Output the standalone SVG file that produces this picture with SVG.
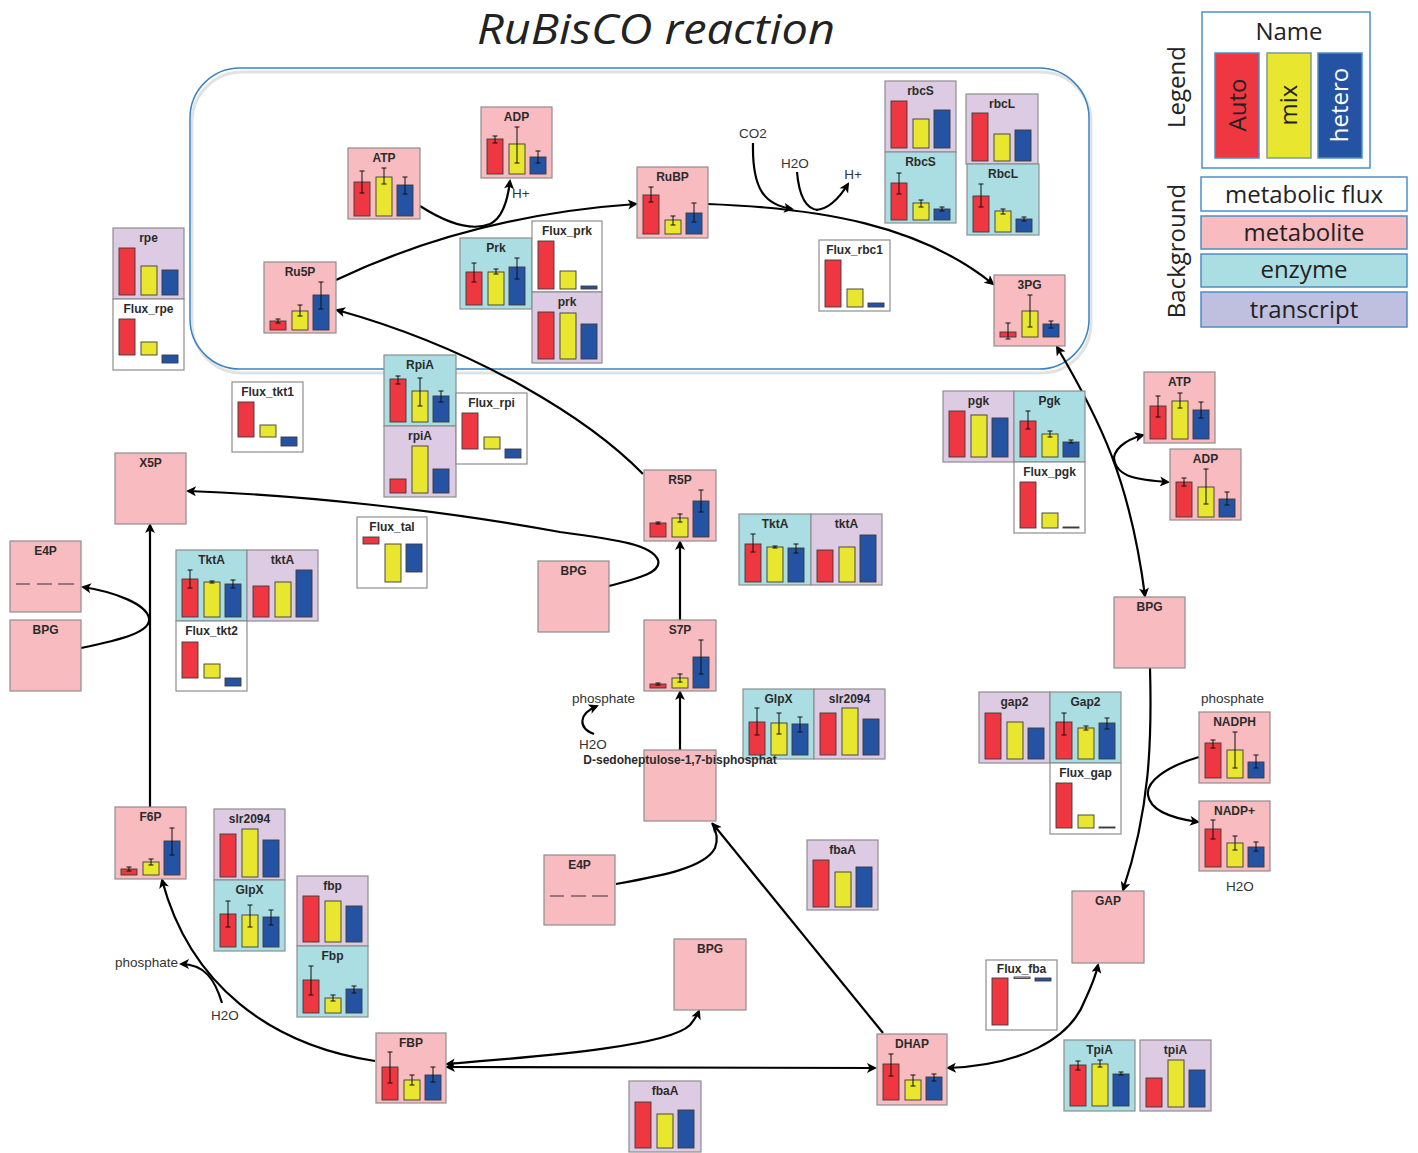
<svg xmlns="http://www.w3.org/2000/svg" width="1418" height="1153" viewBox="0 0 1418 1153">
<style>
.box{stroke:#8e8e8e;stroke-width:1.2}
.m{fill:#f8bbc0}.e{fill:#abdee3}.t{fill:#dccbe2}.f{fill:#fff}
.bar{stroke:#3a3a3a;stroke-width:0.9}
.r{fill:#ee3740}.y{fill:#e9e62f}.b{fill:#2553a3}
.err{stroke:#111;stroke-width:1;fill:none}
.dash{stroke:#333;stroke-width:1.2}
.nt{font-family:"Liberation Sans",Arial,sans-serif;font-weight:bold;font-size:12px;fill:#2b2b2b;text-anchor:middle}
.lab{font-family:"Liberation Sans",Arial,sans-serif;font-size:13.5px;fill:#333}
.c{fill:none;stroke:#000;stroke-width:2.2}
.ae{marker-end:url(#ah)}
.as{marker-start:url(#ah)}
.lg{font-family:"Open Sans","Noto Sans",sans-serif;font-size:24px;fill:#222}
.lgb{stroke:#4d8fc6;stroke-width:1.5}
</style>
<defs>
<marker id="ah" viewBox="0 0 10 10" refX="8" refY="5" markerWidth="12" markerHeight="10" markerUnits="userSpaceOnUse" orient="auto-start-reverse">
<path d="M0,0 L10,5 L0,10 L2.5,5 z" fill="#000"/>
</marker>
</defs>
<rect width="1418" height="1153" fill="#fff"/>
<text x="656" y="44" text-anchor="middle" font-family="'Open Sans','Noto Sans',sans-serif" font-style="italic" font-size="42" fill="#222" textLength="358" lengthAdjust="spacingAndGlyphs">RuBisCO reaction</text>

<g id="compartment">
<rect x="192" y="72" width="899" height="301" rx="50" fill="none" stroke="#e2e2e2" stroke-width="3"/>
<rect x="190" y="68" width="899" height="301" rx="50" fill="none" stroke="#3a84c4" stroke-width="1.5"/>
</g>

<g id="legend">
<text class="lg" transform="translate(1185,87) rotate(-90)" text-anchor="middle">Legend</text>
<rect class="lgb" x="1202" y="12" width="168" height="156" fill="#fff"/>
<text class="lg" x="1289" y="40" text-anchor="middle">Name</text>
<rect class="lgb" x="1215" y="53" width="44" height="105" fill="#ee3740"/>
<rect x="1267" y="53" width="44" height="105" fill="#e9e62f" stroke="#7d9a9a" stroke-width="1.5"/>
<rect class="lgb" x="1318" y="53" width="44" height="105" fill="#2553a3"/>
<text class="lg" transform="translate(1246,105) rotate(-90)" text-anchor="middle">Auto</text>
<text class="lg" transform="translate(1297,105) rotate(-90)" text-anchor="middle">mix</text>
<text class="lg" transform="translate(1348,105) rotate(-90)" text-anchor="middle" style="fill:#fff">hetero</text>
<text class="lg" transform="translate(1185,251) rotate(-90)" text-anchor="middle">Background</text>
<rect class="lgb" x="1201" y="177" width="206" height="34" fill="#fff"/>
<text class="lg" x="1304" y="203" text-anchor="middle">metabolic flux</text>
<rect class="lgb" x="1201" y="216" width="206" height="33" fill="#f8bbc0"/>
<text class="lg" x="1304" y="241" text-anchor="middle">metabolite</text>
<rect class="lgb" x="1201" y="254" width="206" height="33" fill="#abdee3"/>
<text class="lg" x="1304" y="278" text-anchor="middle">enzyme</text>
<rect class="lgb" x="1201" y="292" width="206" height="35" fill="#bfc0e0"/>
<text class="lg" x="1304" y="318" text-anchor="middle">transcript</text>
</g>

<g id="connectors">
<path class="c ae" d="M336,280 C420,240 520,212 636,204"/>
<path class="c ae" d="M420,206 C445,222 470,232 490,224 C503,218 508,198 510,181"/>
<path class="c ae" d="M707,204 C820,208 920,225 993,284"/>
<path class="c ae" d="M753,143 C752,190 765,205 792,209"/>
<path class="c" d="M797,172 C799,195 805,209 818,210"/>
<path class="c ae" d="M816,210 C830,209 840,197 848,184"/>
<path class="c ae as" d="M1057,347 C1100,420 1130,480 1145,596"/>
<path class="c ae" d="M1114,462 C1112,450 1125,440 1143,435"/>
<path class="c ae" d="M1114,458 C1116,478 1140,480 1168,482"/>
<path class="c ae" d="M1150,668 C1152,740 1150,810 1123,890"/>
<path class="c ae" d="M1199,757 C1165,767 1146,782 1148,795 C1150,810 1170,818 1198,822"/>
<path class="c ae as" d="M948,1068 C1020,1065 1070,1040 1085,1000 C1092,985 1096,975 1098,965"/>
<path class="c ae" d="M150,807 V525"/>
<path class="c ae" d="M81,648 C120,640 152,632 149,618 C146,604 115,592 83,587"/>
<path class="c ae" d="M609,586 C640,578 662,572 658,560 C652,545 620,540 560,532 C440,510 300,495 188,491"/>
<path class="c ae" d="M643,474 C590,420 480,350 337,310"/>
<path class="c ae" d="M680,620 V542"/>
<path class="c ae" d="M680,750 V692"/>
<path class="c ae" d="M594,734 C578,728 578,714 597,706"/>
<path class="c" d="M616,884 C660,876 705,868 715,848 C719,838 716,830 712,823"/>
<path class="c ae" d="M883,1033 L713,824"/>
<path class="c ae" d="M375,1061 C270,1045 190,985 162,880"/>
<path class="c ae" d="M222,1003 C215,980 205,964 181,964"/>
<path class="c ae as" d="M447,1064 C560,1055 670,1045 690,1025 C694,1020 697,1016 699,1011"/>
<path class="c ae as" d="M447,1067 L875,1068"/>
</g>

<g id="labels">
<text class="lab" x="753" y="138" text-anchor="middle">CO2</text>
<text class="lab" x="795" y="168" text-anchor="middle">H2O</text>
<text class="lab" x="853" y="179" text-anchor="middle">H+</text>
<text class="lab" x="512" y="198">H+</text>
<text class="lab" x="572" y="703">phosphate</text>
<text class="lab" x="579" y="749">H2O</text>
<text class="lab" x="115" y="967">phosphate</text>
<text class="lab" x="211" y="1020">H2O</text>
<text class="lab" x="1201" y="703">phosphate</text>
<text class="lab" x="1226" y="891">H2O</text>
</g>

<g id="n-rpe" transform="translate(113,228)"><rect class="box t" width="71" height="71"/><text class="nt" x="35.5" y="13.5">rpe</text><rect class="bar r" x="6" y="20" width="16" height="47"/><rect class="bar y" x="28" y="38" width="16" height="29"/><rect class="bar b" x="49" y="42" width="16" height="25"/></g>
<g id="n-Flux_rpe" transform="translate(113,299)"><rect class="box f" width="71" height="71"/><text class="nt" x="35.5" y="13.5">Flux_rpe</text><rect class="bar r" x="6" y="20" width="16" height="36"/><rect class="bar y" x="28" y="43" width="16" height="13"/><rect class="bar b" x="49" y="56" width="16" height="8"/></g>
<g id="n-Ru5P" transform="translate(264,262)"><rect class="box m" width="72" height="71"/><text class="nt" x="36" y="13.5">Ru5P</text><rect class="bar r" x="6" y="59" width="16" height="9"/><rect class="bar y" x="28" y="49" width="16" height="19"/><rect class="bar b" x="49" y="33" width="16" height="35"/><path class="err" d="M14,57V61M11.5,57h5M11.5,61h5M36,43V54M33.5,43h5M33.5,54h5M57,20V47M54.5,20h5M54.5,47h5"/></g>
<g id="n-ATP-1" transform="translate(348,148)"><rect class="box m" width="72" height="71"/><text class="nt" x="36" y="13.5">ATP</text><rect class="bar r" x="6" y="34" width="16" height="34"/><rect class="bar y" x="28" y="29" width="16" height="39"/><rect class="bar b" x="49" y="37" width="16" height="31"/><path class="err" d="M14,23V45M11.5,23h5M11.5,45h5M36,20V36M33.5,20h5M33.5,36h5M57,29V46M54.5,29h5M54.5,46h5"/></g>
<g id="n-ADP-1" transform="translate(481,107)"><rect class="box m" width="71" height="71"/><text class="nt" x="35.5" y="13.5">ADP</text><rect class="bar r" x="6" y="32" width="16" height="35"/><rect class="bar y" x="28" y="37" width="16" height="30"/><rect class="bar b" x="49" y="50" width="16" height="17"/><path class="err" d="M14,29V36M11.5,29h5M11.5,36h5M36,20V56M33.5,20h5M33.5,56h5M57,44V56M54.5,44h5M54.5,56h5"/></g>
<g id="n-RuBP" transform="translate(637,167)"><rect class="box m" width="71" height="71"/><text class="nt" x="35.5" y="13.5">RuBP</text><rect class="bar r" x="6" y="28" width="16" height="39"/><rect class="bar y" x="28" y="53" width="16" height="14"/><rect class="bar b" x="49" y="46" width="16" height="21"/><path class="err" d="M14,20V35M11.5,20h5M11.5,35h5M36,49V58M33.5,49h5M33.5,58h5M57,36V55M54.5,36h5M54.5,55h5"/></g>
<g id="n-Prk" transform="translate(460,238)"><rect class="box e" width="72" height="71"/><text class="nt" x="36" y="13.5">Prk</text><rect class="bar r" x="6" y="34" width="16" height="33"/><rect class="bar y" x="28" y="34" width="16" height="33"/><rect class="bar b" x="49" y="29" width="16" height="38"/><path class="err" d="M14,25V44M11.5,25h5M11.5,44h5M36,31V36M33.5,31h5M33.5,36h5M57,20V41M54.5,20h5M54.5,41h5"/></g>
<g id="n-Flux_prk" transform="translate(532,221)"><rect class="box f" width="70" height="71"/><text class="nt" x="35" y="13.5">Flux_prk</text><rect class="bar r" x="6" y="20" width="16" height="48"/><rect class="bar y" x="28" y="50" width="16" height="18"/><rect class="bar b" x="49" y="65" width="16" height="3"/></g>
<g id="n-prk" transform="translate(532,292)"><rect class="box t" width="70" height="71"/><text class="nt" x="35" y="13.5">prk</text><rect class="bar r" x="6" y="20" width="16" height="47"/><rect class="bar y" x="28" y="21" width="16" height="46"/><rect class="bar b" x="49" y="32" width="16" height="35"/></g>
<g id="n-rbcS" transform="translate(885,81)"><rect class="box t" width="71" height="71"/><text class="nt" x="35.5" y="13.5">rbcS</text><rect class="bar r" x="6" y="20" width="16" height="47"/><rect class="bar y" x="28" y="38" width="16" height="29"/><rect class="bar b" x="49" y="29" width="16" height="38"/></g>
<g id="n-RbcS" transform="translate(885,152)"><rect class="box e" width="71" height="71"/><text class="nt" x="35.5" y="13.5">RbcS</text><rect class="bar r" x="6" y="31" width="16" height="37"/><rect class="bar y" x="28" y="51" width="16" height="17"/><rect class="bar b" x="49" y="57" width="16" height="11"/><path class="err" d="M14,21V42M11.5,21h5M11.5,42h5M36,48V55M33.5,48h5M33.5,55h5M57,55V59M54.5,55h5M54.5,59h5"/></g>
<g id="n-rbcL" transform="translate(966,94)"><rect class="box t" width="72" height="70"/><text class="nt" x="36" y="13.5">rbcL</text><rect class="bar r" x="6" y="19" width="16" height="48"/><rect class="bar y" x="28" y="40" width="16" height="27"/><rect class="bar b" x="49" y="36" width="16" height="31"/></g>
<g id="n-RbcL" transform="translate(967,164)"><rect class="box e" width="72" height="71"/><text class="nt" x="36" y="13.5">RbcL</text><rect class="bar r" x="6" y="32" width="16" height="36"/><rect class="bar y" x="28" y="47" width="16" height="21"/><rect class="bar b" x="49" y="55" width="16" height="13"/><path class="err" d="M14,20V43M11.5,20h5M11.5,43h5M36,45V50M33.5,45h5M33.5,50h5M57,53V57M54.5,53h5M54.5,57h5"/></g>
<g id="n-Flux_rbc1" transform="translate(819,240)"><rect class="box f" width="71" height="71"/><text class="nt" x="35.5" y="13.5">Flux_rbc1</text><rect class="bar r" x="6" y="20" width="16" height="47"/><rect class="bar y" x="28" y="49" width="16" height="18"/><rect class="bar b" x="49" y="63" width="16" height="4"/></g>
<g id="n-3PG" transform="translate(994,275)"><rect class="box m" width="71" height="71"/><text class="nt" x="35.5" y="13.5">3PG</text><rect class="bar r" x="6" y="57" width="16" height="5"/><rect class="bar y" x="28" y="36" width="16" height="26"/><rect class="bar b" x="49" y="49" width="16" height="13"/><path class="err" d="M14,48V64M11.5,48h5M11.5,64h5M36,20V52M33.5,20h5M33.5,52h5M57,46V53M54.5,46h5M54.5,53h5"/></g>
<g id="n-RpiA" transform="translate(384,355)"><rect class="box e" width="72" height="71"/><text class="nt" x="36" y="13.5">RpiA</text><rect class="bar r" x="6" y="24" width="16" height="43"/><rect class="bar y" x="28" y="36" width="16" height="31"/><rect class="bar b" x="49" y="41" width="16" height="26"/><path class="err" d="M14,21V29M11.5,21h5M11.5,29h5M36,23V51M33.5,23h5M33.5,51h5M57,36V47M54.5,36h5M54.5,47h5"/></g>
<g id="n-rpiA" transform="translate(384,426)"><rect class="box t" width="72" height="71"/><text class="nt" x="36" y="13.5">rpiA</text><rect class="bar r" x="6" y="53" width="16" height="14"/><rect class="bar y" x="28" y="20" width="16" height="47"/><rect class="bar b" x="49" y="43" width="16" height="24"/></g>
<g id="n-Flux_rpi" transform="translate(456,393)"><rect class="box f" width="71" height="71"/><text class="nt" x="35.5" y="13.5">Flux_rpi</text><rect class="bar r" x="6" y="20" width="16" height="36"/><rect class="bar y" x="28" y="44" width="16" height="12"/><rect class="bar b" x="49" y="56" width="16" height="9"/></g>
<g id="n-Flux_tkt1" transform="translate(232,382)"><rect class="box f" width="71" height="70"/><text class="nt" x="35.5" y="13.5">Flux_tkt1</text><rect class="bar r" x="6" y="20" width="16" height="35"/><rect class="bar y" x="28" y="43" width="16" height="12"/><rect class="bar b" x="49" y="55" width="16" height="9"/></g>
<g id="n-X5P" transform="translate(115,453)"><rect class="box m" width="71" height="71"/><text class="nt" x="35.5" y="13.5">X5P</text></g>
<g id="n-E4P-1" transform="translate(10,541)"><rect class="box m" width="71" height="71"/><text class="nt" x="35.5" y="13.5">E4P</text><path class="dash" d="M6,43h14M27,43h15M48,43h16"/></g>
<g id="n-BPG-1" transform="translate(10,620)"><rect class="box m" width="71" height="71"/><text class="nt" x="35.5" y="13.5">BPG</text></g>
<g id="n-TktA-1" transform="translate(176,550)"><rect class="box e" width="71" height="71"/><text class="nt" x="35.5" y="13.5">TktA</text><rect class="bar r" x="6" y="29" width="16" height="38"/><rect class="bar y" x="28" y="32" width="16" height="35"/><rect class="bar b" x="49" y="34" width="16" height="33"/><path class="err" d="M14,20V38M11.5,20h5M11.5,38h5M36,31V33M33.5,31h5M33.5,33h5M57,30V38M54.5,30h5M54.5,38h5"/></g>
<g id="n-tktA-1" transform="translate(247,550)"><rect class="box t" width="71" height="71"/><text class="nt" x="35.5" y="13.5">tktA</text><rect class="bar r" x="6" y="36" width="16" height="31"/><rect class="bar y" x="28" y="32" width="16" height="35"/><rect class="bar b" x="49" y="20" width="16" height="47"/></g>
<g id="n-Flux_tkt2" transform="translate(176,621)"><rect class="box f" width="71" height="70"/><text class="nt" x="35.5" y="13.5">Flux_tkt2</text><rect class="bar r" x="6" y="21" width="16" height="36"/><rect class="bar y" x="28" y="43" width="16" height="14"/><rect class="bar b" x="49" y="57" width="16" height="8"/></g>
<g id="n-R5P" transform="translate(644,470)"><rect class="box m" width="72" height="71"/><text class="nt" x="36" y="13.5">R5P</text><rect class="bar r" x="6" y="53" width="16" height="14"/><rect class="bar y" x="28" y="48" width="16" height="19"/><rect class="bar b" x="49" y="31" width="16" height="36"/><path class="err" d="M14,52V54M11.5,52h5M11.5,54h5M36,44V52M33.5,44h5M33.5,52h5M57,20V42M54.5,20h5M54.5,42h5"/></g>
<g id="n-S7P" transform="translate(644,620)"><rect class="box m" width="72" height="71"/><text class="nt" x="36" y="13.5">S7P</text><rect class="bar r" x="6" y="64" width="16" height="4"/><rect class="bar y" x="28" y="58" width="16" height="10"/><rect class="bar b" x="49" y="37" width="16" height="31"/><path class="err" d="M14,63V65M11.5,63h5M11.5,65h5M36,54V62M33.5,54h5M33.5,62h5M57,20V54M54.5,20h5M54.5,54h5"/></g>
<g id="n-BPG-2" transform="translate(538,561)"><rect class="box m" width="71" height="71"/><text class="nt" x="35.5" y="13.5">BPG</text></g>
<g id="n-Flux_tal" transform="translate(357,517)"><rect class="box f" width="70" height="71"/><text class="nt" x="35" y="13.5">Flux_tal</text><rect class="bar r" x="6" y="20" width="16" height="7"/><rect class="bar y" x="28" y="27" width="16" height="38"/><rect class="bar b" x="49" y="27" width="16" height="28"/></g>
<g id="n-TktA-2" transform="translate(739,514)"><rect class="box e" width="72" height="71"/><text class="nt" x="36" y="13.5">TktA</text><rect class="bar r" x="6" y="30" width="16" height="38"/><rect class="bar y" x="28" y="33" width="16" height="35"/><rect class="bar b" x="49" y="34" width="16" height="34"/><path class="err" d="M14,20V38M11.5,20h5M11.5,38h5M36,32V34M33.5,32h5M33.5,34h5M57,30V39M54.5,30h5M54.5,39h5"/></g>
<g id="n-tktA-2" transform="translate(811,514)"><rect class="box t" width="71" height="71"/><text class="nt" x="35.5" y="13.5">tktA</text><rect class="bar r" x="6" y="36" width="16" height="32"/><rect class="bar y" x="28" y="33" width="16" height="35"/><rect class="bar b" x="49" y="21" width="16" height="47"/></g>
<g id="n-pgk" transform="translate(943,391)"><rect class="box t" width="71" height="71"/><text class="nt" x="35.5" y="13.5">pgk</text><rect class="bar r" x="6" y="20" width="16" height="46"/><rect class="bar y" x="28" y="24" width="16" height="42"/><rect class="bar b" x="49" y="27" width="16" height="39"/></g>
<g id="n-Pgk" transform="translate(1014,391)"><rect class="box e" width="71" height="71"/><text class="nt" x="35.5" y="13.5">Pgk</text><rect class="bar r" x="6" y="30" width="16" height="36"/><rect class="bar y" x="28" y="43" width="16" height="23"/><rect class="bar b" x="49" y="51" width="16" height="15"/><path class="err" d="M14,20V38M11.5,20h5M11.5,38h5M36,40V46M33.5,40h5M33.5,46h5M57,49V52M54.5,49h5M54.5,52h5"/></g>
<g id="n-Flux_pgk" transform="translate(1014,462)"><rect class="box f" width="71" height="71"/><text class="nt" x="35.5" y="13.5">Flux_pgk</text><rect class="bar r" x="6" y="20" width="16" height="46"/><rect class="bar y" x="28" y="51" width="16" height="15"/><rect class="bar b" x="49" y="65" width="16" height="1"/></g>
<g id="n-ATP-2" transform="translate(1144,372)"><rect class="box m" width="71" height="71"/><text class="nt" x="35.5" y="13.5">ATP</text><rect class="bar r" x="6" y="34" width="16" height="33"/><rect class="bar y" x="28" y="29" width="16" height="38"/><rect class="bar b" x="49" y="38" width="16" height="29"/><path class="err" d="M14,24V45M11.5,24h5M11.5,45h5M36,21V36M33.5,21h5M33.5,36h5M57,30V46M54.5,30h5M54.5,46h5"/></g>
<g id="n-ADP-2" transform="translate(1170,449)"><rect class="box m" width="71" height="71"/><text class="nt" x="35.5" y="13.5">ADP</text><rect class="bar r" x="6" y="33" width="16" height="35"/><rect class="bar y" x="28" y="38" width="16" height="30"/><rect class="bar b" x="49" y="50" width="16" height="18"/><path class="err" d="M14,29V37M11.5,29h5M11.5,37h5M36,20V55M33.5,20h5M33.5,55h5M57,43V56M54.5,43h5M54.5,56h5"/></g>
<g id="n-BPG-3" transform="translate(1114,597)"><rect class="box m" width="71" height="71"/><text class="nt" x="35.5" y="13.5">BPG</text></g>
<g id="n-gap2" transform="translate(979,692)"><rect class="box t" width="71" height="71"/><text class="nt" x="35.5" y="13.5">gap2</text><rect class="bar r" x="6" y="21" width="16" height="46"/><rect class="bar y" x="28" y="30" width="16" height="37"/><rect class="bar b" x="49" y="36" width="16" height="31"/></g>
<g id="n-Gap2" transform="translate(1050,692)"><rect class="box e" width="71" height="71"/><text class="nt" x="35.5" y="13.5">Gap2</text><rect class="bar r" x="6" y="30" width="16" height="37"/><rect class="bar y" x="28" y="36" width="16" height="31"/><rect class="bar b" x="49" y="31" width="16" height="36"/><path class="err" d="M14,21V43M11.5,21h5M11.5,43h5M36,34V38M33.5,34h5M33.5,38h5M57,26V37M54.5,26h5M54.5,37h5"/></g>
<g id="n-Flux_gap" transform="translate(1050,763)"><rect class="box f" width="71" height="71"/><text class="nt" x="35.5" y="13.5">Flux_gap</text><rect class="bar r" x="6" y="20" width="16" height="45"/><rect class="bar y" x="28" y="52" width="16" height="13"/><rect class="bar b" x="49" y="64" width="16" height="1"/></g>
<g id="n-NADPH" transform="translate(1199,712)"><rect class="box m" width="71" height="71"/><text class="nt" x="35.5" y="13.5">NADPH</text><rect class="bar r" x="6" y="31" width="16" height="35"/><rect class="bar y" x="28" y="38" width="16" height="28"/><rect class="bar b" x="49" y="50" width="16" height="16"/><path class="err" d="M14,28V36M11.5,28h5M11.5,36h5M36,20V56M33.5,20h5M33.5,56h5M57,43V56M54.5,43h5M54.5,56h5"/></g>
<g id="n-NADPplus" transform="translate(1199,801)"><rect class="box m" width="71" height="70"/><text class="nt" x="35.5" y="13.5">NADP+</text><rect class="bar r" x="6" y="28" width="16" height="38"/><rect class="bar y" x="28" y="42" width="16" height="24"/><rect class="bar b" x="49" y="46" width="16" height="20"/><path class="err" d="M14,19V38M11.5,19h5M11.5,38h5M36,35V49M33.5,35h5M33.5,49h5M57,41V50M54.5,41h5M54.5,50h5"/></g>
<g id="n-GAP" transform="translate(1072,891)"><rect class="box m" width="72" height="72"/><text class="nt" x="36" y="13.5">GAP</text></g>
<g id="n-TpiA" transform="translate(1064,1040)"><rect class="box e" width="71" height="71"/><text class="nt" x="35.5" y="13.5">TpiA</text><rect class="bar r" x="6" y="25" width="16" height="41"/><rect class="bar y" x="28" y="24" width="16" height="42"/><rect class="bar b" x="49" y="34" width="16" height="32"/><path class="err" d="M14,21V30M11.5,21h5M11.5,30h5M36,20V27M33.5,20h5M33.5,27h5M57,32V35M54.5,32h5M54.5,35h5"/></g>
<g id="n-tpiA" transform="translate(1140,1040)"><rect class="box t" width="71" height="71"/><text class="nt" x="35.5" y="13.5">tpiA</text><rect class="bar r" x="6" y="38" width="16" height="29"/><rect class="bar y" x="28" y="20" width="16" height="47"/><rect class="bar b" x="49" y="30" width="16" height="37"/></g>
<g id="n-Flux_fba" transform="translate(986,960)"><rect class="box f" width="71" height="70"/><text class="nt" x="35.5" y="13">Flux_fba</text><rect class="bar r" x="6" y="18" width="16" height="47"/><rect class="bar y" x="28" y="17" width="16" height="1.5"/><rect class="bar b" x="49" y="18" width="16" height="3"/></g>
<g id="n-DHAP" transform="translate(877,1034)"><rect class="box m" width="70" height="71"/><text class="nt" x="35" y="13.5">DHAP</text><rect class="bar r" x="6" y="30" width="16" height="36"/><rect class="bar y" x="28" y="46" width="16" height="20"/><rect class="bar b" x="49" y="43" width="16" height="23"/><path class="err" d="M14,20V42M11.5,20h5M11.5,42h5M36,41V52M33.5,41h5M33.5,52h5M57,40V47M54.5,40h5M54.5,47h5"/></g>
<g id="n-fbaA-1" transform="translate(807,840)"><rect class="box t" width="71" height="70"/><text class="nt" x="35.5" y="13.5">fbaA</text><rect class="bar r" x="6" y="20" width="16" height="47"/><rect class="bar y" x="28" y="32" width="16" height="35"/><rect class="bar b" x="49" y="27" width="16" height="40"/></g>
<g id="n-fbaA-2" transform="translate(629,1081)"><rect class="box t" width="72" height="71"/><text class="nt" x="36" y="13.5">fbaA</text><rect class="bar r" x="6" y="21" width="16" height="46"/><rect class="bar y" x="28" y="33" width="16" height="34"/><rect class="bar b" x="49" y="29" width="16" height="38"/></g>
<g id="n-FBP" transform="translate(376,1033)"><rect class="box m" width="70" height="70"/><text class="nt" x="35" y="13.5">FBP</text><rect class="bar r" x="6" y="34" width="16" height="33"/><rect class="bar y" x="28" y="47" width="16" height="20"/><rect class="bar b" x="49" y="42" width="16" height="25"/><path class="err" d="M14,19V50M11.5,19h5M11.5,50h5M36,42V52M33.5,42h5M33.5,52h5M57,34V49M54.5,34h5M54.5,49h5"/></g>
<g id="n-BPG-4" transform="translate(674,939)"><rect class="box m" width="72" height="71"/><text class="nt" x="36" y="13.5">BPG</text></g>
<g id="n-E4P-2" transform="translate(544,855)"><rect class="box m" width="71" height="70"/><text class="nt" x="35.5" y="13.5">E4P</text><path class="dash" d="M6,41h14M27,41h15M48,41h16"/></g>
<g id="n-fbp" transform="translate(297,876)"><rect class="box t" width="71" height="70"/><text class="nt" x="35.5" y="13.5">fbp</text><rect class="bar r" x="6" y="20" width="16" height="46"/><rect class="bar y" x="28" y="25" width="16" height="41"/><rect class="bar b" x="49" y="30" width="16" height="36"/></g>
<g id="n-Fbp" transform="translate(297,946)"><rect class="box e" width="71" height="71"/><text class="nt" x="35.5" y="13.5">Fbp</text><rect class="bar r" x="6" y="34" width="16" height="33"/><rect class="bar y" x="28" y="52" width="16" height="15"/><rect class="bar b" x="49" y="43" width="16" height="24"/><path class="err" d="M14,20V49M11.5,20h5M11.5,49h5M36,49V55M33.5,49h5M33.5,55h5M57,40V47M54.5,40h5M54.5,47h5"/></g>
<g id="n-slr2094-1" transform="translate(214,809)"><rect class="box t" width="71" height="71"/><text class="nt" x="35.5" y="13.5">slr2094</text><rect class="bar r" x="6" y="25" width="16" height="43"/><rect class="bar y" x="28" y="20" width="16" height="48"/><rect class="bar b" x="49" y="31" width="16" height="37"/></g>
<g id="n-GlpX-1" transform="translate(214,880)"><rect class="box e" width="71" height="71"/><text class="nt" x="35.5" y="13.5">GlpX</text><rect class="bar r" x="6" y="34" width="16" height="33"/><rect class="bar y" x="28" y="35" width="16" height="32"/><rect class="bar b" x="49" y="37" width="16" height="30"/><path class="err" d="M14,21V47M11.5,21h5M11.5,47h5M36,25V47M33.5,25h5M33.5,47h5M57,30V45M54.5,30h5M54.5,45h5"/></g>
<g id="n-F6P" transform="translate(115,807)"><rect class="box m" width="71" height="72"/><text class="nt" x="35.5" y="13.5">F6P</text><rect class="bar r" x="6" y="62" width="16" height="6"/><rect class="bar y" x="28" y="55" width="16" height="13"/><rect class="bar b" x="49" y="34" width="16" height="34"/><path class="err" d="M14,60V64M11.5,60h5M11.5,64h5M36,52V58M33.5,52h5M33.5,58h5M57,21V48M54.5,21h5M54.5,48h5"/></g>
<g id="n-GlpX-2" transform="translate(743,689)"><rect class="box e" width="71" height="70"/><text class="nt" x="35.5" y="13.5">GlpX</text><rect class="bar r" x="6" y="33" width="16" height="33"/><rect class="bar y" x="28" y="34" width="16" height="32"/><rect class="bar b" x="49" y="35" width="16" height="31"/><path class="err" d="M14,19V46M11.5,19h5M11.5,46h5M36,24V45M33.5,24h5M33.5,45h5M57,28V43M54.5,28h5M54.5,43h5"/></g>
<g id="n-slr2094-2" transform="translate(814,689)"><rect class="box t" width="71" height="70"/><text class="nt" x="35.5" y="13.5">slr2094</text><rect class="bar r" x="6" y="24" width="16" height="42"/><rect class="bar y" x="28" y="19" width="16" height="47"/><rect class="bar b" x="49" y="30" width="16" height="36"/></g>
<g id="n-SBP" transform="translate(644,750)"><rect class="box m" width="72" height="71"/><text class="nt" x="36" y="13.5">D-sedoheptulose-1,7-bisphosphat</text></g>
</svg>
